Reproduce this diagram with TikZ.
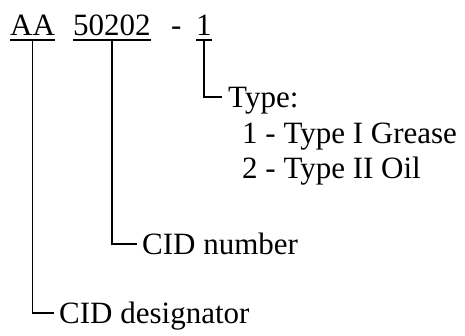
\documentclass[tikz,border=0pt]{standalone}
\usepackage{fontspec}
\setmainfont{Liberation Serif}
\usetikzlibrary{positioning}

\begin{document}
\begin{tikzpicture}[
    x=1pt, y=-1pt,
    txt/.style={font=\fontsize{31pt}{35.5pt}\selectfont, text depth=0pt},
    code/.style={txt, anchor=base west, inner xsep=0pt, inner ysep=4.5pt},
    lbl/.style={txt, anchor=west, inner xsep=5pt, inner ysep=0pt},
    item/.style={txt, anchor=base west, inner sep=0pt},
    ln/.style={line width=1.8pt}
]
\useasboundingbox (0,0) rectangle (465,335);

% part number
\node[code] (aa)   at (10,35)  {AA};
\node[code] (num)  at (73,35)  {50202};
\node[code] (dash) at (171,35) {-};
\node[code] (one)  at (196,35) {1};

\draw[ln] (aa.south west) -- (aa.south east);
\draw[ln] (num.south west) -- (num.south east);
\draw[ln] (one.south west) -- (one.south east);

% labels
\node[lbl, inner xsep=6pt] (type) at (222,97) {Type:};
\node[item] (grease) at (242,143)   {1 - Type I Grease};
\node[item] (oil)    at (242,178.5) {2 - Type II Oil};
\node[lbl] (cidnum)  at (137,244) {CID number};
\node[lbl] (ciddes)  at (54,313)  {CID designator};

\draw[ln] (one.south) |- (type.west);
\draw[ln] (num.south) |- (cidnum.west);
\draw[ln] (aa.south) |- (ciddes.west);

\end{tikzpicture}
\end{document}
